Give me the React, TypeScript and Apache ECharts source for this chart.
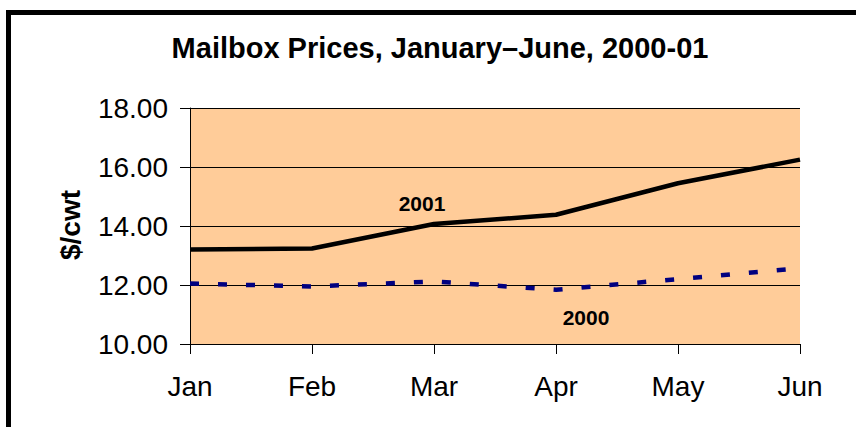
import React, { useEffect, useRef } from "react";
import * as echarts from "echarts";

const months = ["Jan", "Feb", "Mar", "Apr", "May", "Jun"];
const prices2001 = [13.2, 13.24, 14.07, 14.38, 15.45, 16.25];
const prices2000 = [12.05, 11.95, 12.12, 11.84, 12.2, 12.57];
const yMin = 10;
const yMax = 18;
const yStep = 2;
const titleText = "Mailbox Prices, January\u2013June, 2000-01";
const yAxisTitle = "$/cwt";
const seriesNames = ["2001", "2000"];

const FONT = "'Liberation Sans', Arial, sans-serif";

export default function App() {
  const ref = useRef<HTMLDivElement>(null);

  useEffect(() => {
    if (!ref.current) return;
    const chart = echarts.init(ref.current, null, { renderer: "svg" });
    chart.setOption({
      animation: false,
      backgroundColor: "#ffffff",
      grid: {
        left: 190,
        right: 56,
        top: 108,
        bottom: 83,
        show: true,
        backgroundColor: "#FFCC99",
        borderWidth: 0,
      },
      xAxis: {
        type: "category",
        data: months,
        boundaryGap: false,
        axisLine: { show: true, lineStyle: { color: "#000", width: 1 } },
        axisTick: { show: true, length: 10, lineStyle: { color: "#000", width: 1 } },
        axisLabel: { color: "#000", fontFamily: FONT, fontSize: 28, margin: 28 },
        splitLine: { show: false },
      },
      yAxis: {
        type: "value",
        min: yMin,
        max: yMax,
        interval: yStep,
        axisLine: { show: true, lineStyle: { color: "#000", width: 1 } },
        axisTick: { show: true, length: 10, lineStyle: { color: "#000", width: 1 } },
        axisLabel: {
          color: "#000",
          fontFamily: FONT,
          fontSize: 28,
          margin: 22,
          formatter: (v: number) => v.toFixed(2),
        },
        splitLine: { show: true, lineStyle: { color: "#000", width: 1 } },
      },
      series: [
        {
          name: seriesNames[0],
          type: "line",
          data: prices2001,
          symbol: "none",
          lineStyle: { color: "#000000", width: 4.5 },
          z: 3,
        },
        {
          name: seriesNames[1],
          type: "line",
          data: prices2000,
          symbol: "none",
          lineStyle: { color: "#000080", width: 4.5, type: [9, 19] },
          z: 3,
        },
      ],
      graphic: [
        {
          type: "rect",
          shape: { x: 8.5, y: 12.5, width: 1000, height: 1000 },
          style: { fill: "none", stroke: "#000", lineWidth: 5 },
          silent: true,
          z: 10,
        },
        {
          type: "text",
          x: 440,
          y: 48,
          style: {
            text: titleText,
            fill: "#000",
            font: `bold 29px ${FONT}`,
            textAlign: "center",
            textVerticalAlign: "middle",
          },
        },
        {
          type: "text",
          x: 70,
          y: 225,
          rotation: Math.PI / 2,
          style: {
            text: yAxisTitle,
            fill: "#000",
            font: `bold 28px ${FONT}`,
            textAlign: "center",
            textVerticalAlign: "middle",
          },
        },
        {
          type: "text",
          x: 422,
          y: 203,
          z: 5,
          style: {
            text: seriesNames[0],
            fill: "#000",
            font: `bold 21px ${FONT}`,
            textAlign: "center",
            textVerticalAlign: "middle",
          },
        },
        {
          type: "text",
          x: 586,
          y: 317,
          z: 5,
          style: {
            text: seriesNames[1],
            fill: "#000",
            font: `bold 21px ${FONT}`,
            textAlign: "center",
            textVerticalAlign: "middle",
          },
        },
      ],
    });
    return () => chart.dispose();
  }, []);

  return (
    <div
      ref={ref}
      style={{ position: "absolute", left: 0, top: 0, width: 856, height: 427 }}
    />
  );
}
